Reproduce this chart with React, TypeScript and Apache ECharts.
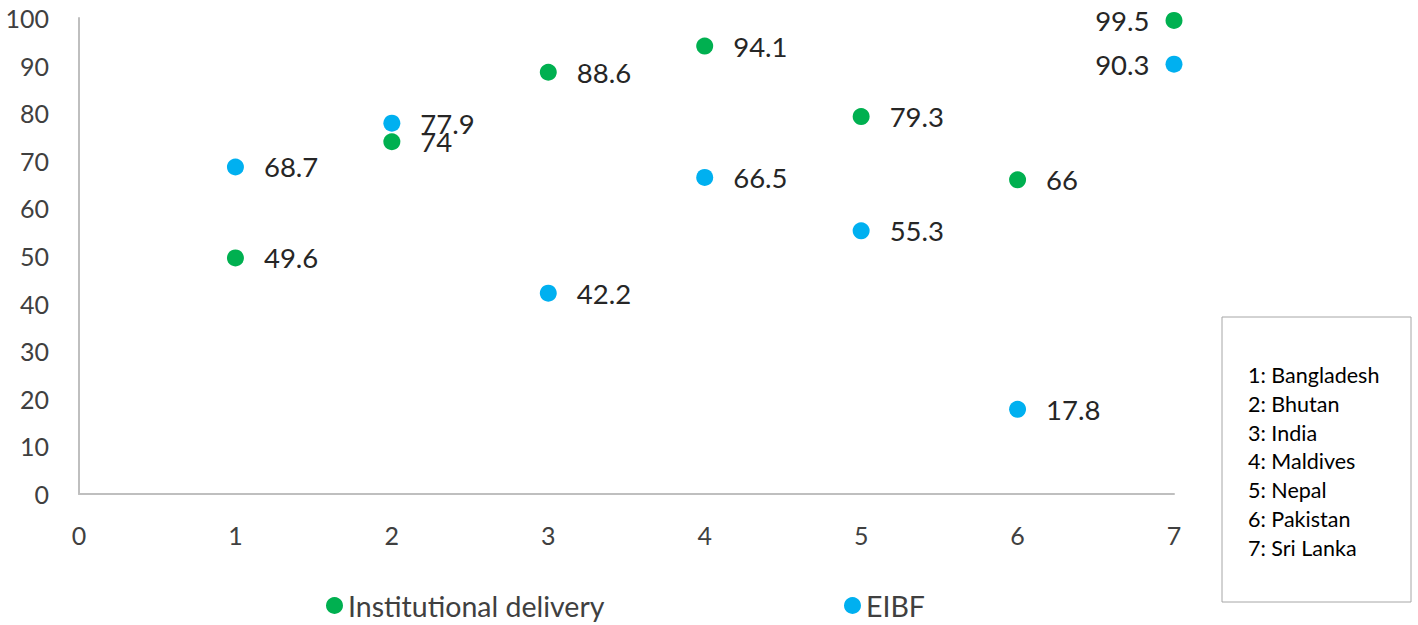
import React, { useEffect, useRef } from "react";
import * as echarts from "echarts";

const xValues = [1, 2, 3, 4, 5, 6, 7];
const institutionalDelivery = [49.6, 74, 88.6, 94.1, 79.3, 66, 99.5];
const eibf = [68.7, 77.9, 42.2, 66.5, 55.3, 17.8, 90.3];
const seriesNames = ["Institutional delivery", "EIBF"];
const countryLabels = [
  "1: Bangladesh",
  "2: Bhutan",
  "3: India",
  "4: Maldives",
  "5: Nepal",
  "6: Pakistan",
  "7: Sri Lanka",
];

const FONT = "Lato, 'Open Sans', sans-serif";
const GREEN = "#00b050";
const BLUE = "#00b0f0";

function buildData(values: number[]) {
  return values.map((v, i) => {
    const item: any = { value: [xValues[i], v] };
    if (i === values.length - 1) {
      item.label = { position: "left", distance: 16 };
    }
    return item;
  });
}

export default function App() {
  const ref = useRef<HTMLDivElement>(null);

  useEffect(() => {
    document.body.style.margin = "0";
    if (!ref.current) return;
    const chart = echarts.init(ref.current, null, { renderer: "svg" });
    const labelStyle = {
      show: true,
      position: "right",
      distance: 20,
      color: "#262626",
      fontSize: 27.5,
      fontFamily: FONT,
      formatter: (p: any) => String(p.value[1]),
    };
    const legendBase = {
      top: 586,
      icon: "circle",
      itemWidth: 17,
      itemHeight: 17,
      itemGap: 8,
      textStyle: { color: "#404040", fontSize: 28.5, fontFamily: FONT },
    };
    chart.setOption({
      animation: false,
      backgroundColor: "#ffffff",
      grid: { left: 79, right: 244, top: 18, bottom: 131, containLabel: false },
      xAxis: {
        type: "value",
        min: 0,
        max: 7,
        interval: 1,
        axisLine: { show: true, lineStyle: { color: "#bfbfbf", width: 2 } },
        axisTick: { show: false },
        splitLine: { show: false },
        axisLabel: { color: "#404040", fontSize: 25, fontFamily: FONT, margin: 28 },
      },
      yAxis: {
        type: "value",
        min: 0,
        max: 100,
        interval: 10,
        axisLine: { show: true, lineStyle: { color: "#bfbfbf", width: 2 } },
        axisTick: { show: false },
        splitLine: { show: false },
        axisLabel: { color: "#404040", fontSize: 25, fontFamily: FONT, margin: 30 },
      },
      legend: [
        { ...legendBase, data: [seriesNames[0]], left: 321 },
        { ...legendBase, data: [seriesNames[1]], left: 839 },
      ],
      series: [
        {
          name: seriesNames[0],
          type: "scatter",
          symbol: "circle",
          symbolSize: 17,
          itemStyle: { color: GREEN, opacity: 1 },
          label: labelStyle,
          data: buildData(institutionalDelivery),
        },
        {
          name: seriesNames[1],
          type: "scatter",
          symbol: "circle",
          symbolSize: 17,
          itemStyle: { color: BLUE, opacity: 1 },
          label: labelStyle,
          data: buildData(eibf),
        },
      ],
      graphic: [
        {
          type: "rect",
          shape: { x: 1222, y: 317, width: 189, height: 285 },
          style: { fill: "#ffffff", stroke: "#a6a6a6", lineWidth: 1 },
        },
        ...countryLabels.map((t, i) => ({
          type: "text",
          x: 1248,
          y: 375 + i * 28.8,
          style: {
            text: t,
            fill: "#000000",
            fontSize: 21.5,
            fontFamily: FONT,
            verticalAlign: "middle",
          },
        })),
      ],
    });
    return () => chart.dispose();
  }, []);

  return <div ref={ref} style={{ width: 1418, height: 625 }} />;
}
